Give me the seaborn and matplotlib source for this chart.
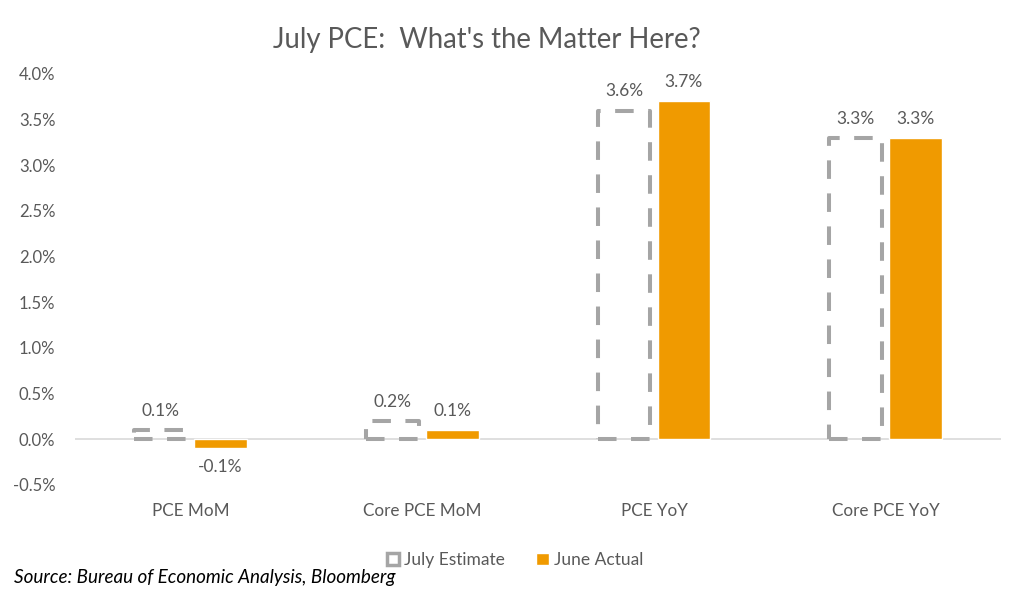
import matplotlib
matplotlib.use("Agg")
import matplotlib.pyplot as plt
import seaborn as sns
import pandas as pd
from matplotlib.ticker import FuncFormatter, MultipleLocator

categories = ["PCE MoM", "Core PCE MoM", "PCE YoY", "Core PCE YoY"]
july_estimate = [0.1, 0.2, 3.6, 3.3]
june_actual = [-0.1, 0.1, 3.7, 3.3]
series_names = ["July Estimate", "June Actual"]

df = pd.DataFrame({
    "cat": categories * 2,
    "val": july_estimate + june_actual,
    "series": [series_names[0]] * 4 + [series_names[1]] * 4,
})

sns.set_theme(style="white")
plt.rcParams["font.family"] = ["Lato", "DejaVu Sans"]
TXT = "#595959"
GRAY = "#a5a5a5"
ORANGE = "#f09a00"

fig = plt.figure(figsize=(10.24, 5.92), dpi=100)
ax = fig.add_axes([0.073, 0.181, 0.905, 0.694])

sns.barplot(data=df, x="cat", y="val", hue="series", order=categories,
            hue_order=series_names, palette=[GRAY, ORANGE], width=0.517,
            gap=0.12, ax=ax, legend=True, saturation=1)

for p in ax.containers[0]:
    p.set_facecolor("none")
    p.set_edgecolor(GRAY)
    p.set_linestyle((0, (4.6, 3.6)))
    p.set_linewidth(2.9)
    p.set_joinstyle("round")
    p.set_capstyle("butt")

ax.bar_label(ax.containers[0], labels=[f"{v:.1f}%" for v in july_estimate],
             padding=8, color=TXT, fontsize=12.5)
ax.bar_label(ax.containers[1], labels=[f"{v:.1f}%" for v in june_actual],
             padding=8, color=TXT, fontsize=12.5)

ax.set_ylim(-0.5, 4.0)
ax.set_xlim(-0.5, 3.5)
ax.yaxis.set_major_locator(MultipleLocator(0.5))
ax.yaxis.set_major_formatter(FuncFormatter(lambda v, p: f"{v:.1f}%"))
ax.tick_params(axis="y", labelsize=12, labelcolor=TXT, length=0, pad=14)
ax.tick_params(axis="x", labelsize=12.3, labelcolor=TXT, length=0, pad=13)
ax.set_xlabel("")
ax.set_ylabel("")
for s in ax.spines.values():
    s.set_visible(False)
ax.axhline(0, color="#d9d9d9", lw=1.2, zorder=0)

handles, labels = ax.get_legend_handles_labels()
ax.get_legend().remove()
h0 = handles[0]
h0.set_facecolor("none")
h0.set_edgecolor(GRAY)
h0.set_linewidth(2.5)
h0.set_linestyle("solid")
fig.legend(handles, labels, loc="center", bbox_to_anchor=(0.503, 0.054),
           ncol=2, frameon=False, fontsize=12.5, labelcolor=TXT,
           handlelength=0.7, handleheight=0.7, handletextpad=0.3,
           columnspacing=1.8)

fig.text(0.475, 0.932, "July PCE:  What's the Matter Here?", ha="center",
         va="center", fontsize=19.8, color=TXT)
fig.text(0.014, 0.024, "Source: Bureau of Economic Analysis, Bloomberg",
         ha="left", va="center", fontsize=13.6, style="italic", color="black")

fig.savefig("out.png", dpi=100)
